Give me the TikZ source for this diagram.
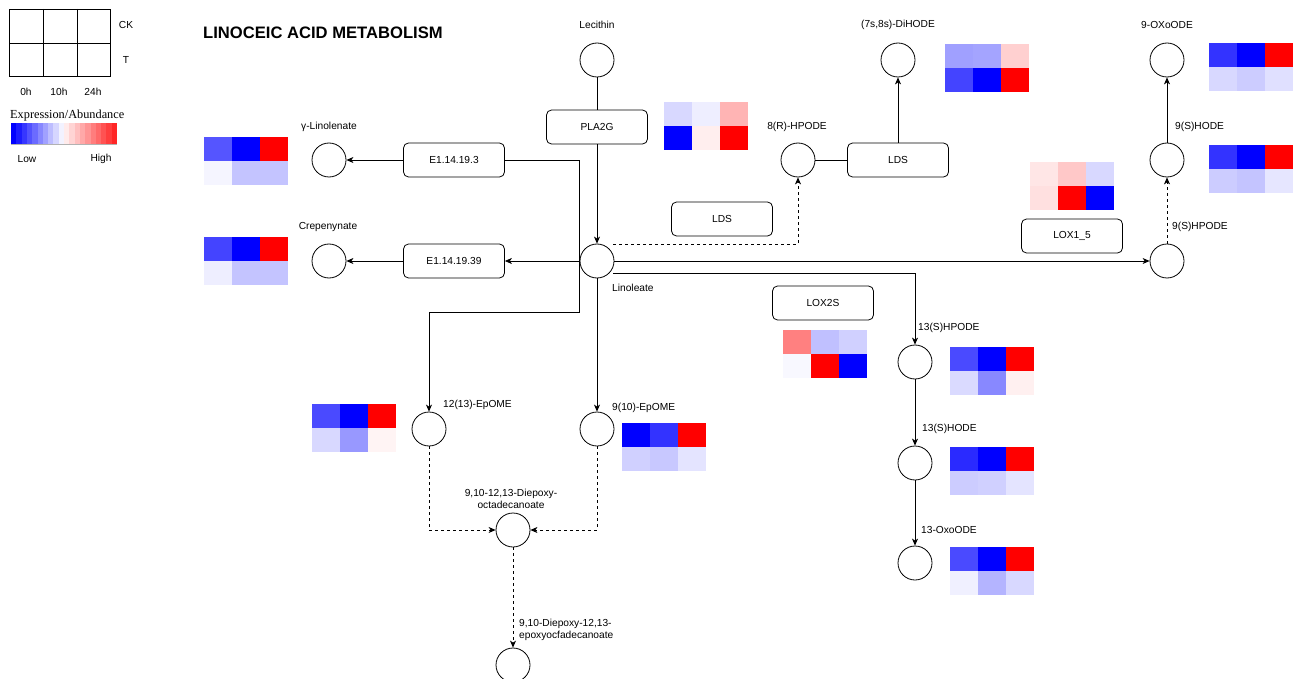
\documentclass[tikz,border=0pt]{standalone}
\usepackage{fontspec}
\setmainfont{Liberation Sans}
\newfontfamily\serifleg{Liberation Serif}
\usetikzlibrary{arrows.meta,calc}
\newcommand\heatmap[8]{%
  \definecolor{hmA}{HTML}{#3}\definecolor{hmB}{HTML}{#4}\definecolor{hmC}{HTML}{#5}%
  \definecolor{hmD}{HTML}{#6}\definecolor{hmE}{HTML}{#7}\definecolor{hmF}{HTML}{#8}%
  \fill[hmA] (#1,#2) rectangle ++(28,24);
  \fill[hmB] ($(#1,#2)+(28,0)$) rectangle ++(28,24);
  \fill[hmC] ($(#1,#2)+(56,0)$) rectangle ++(28,24);
  \fill[hmD] ($(#1,#2)+(0,24)$) rectangle ++(28,24);
  \fill[hmE] ($(#1,#2)+(28,24)$) rectangle ++(28,24);
  \fill[hmF] ($(#1,#2)+(56,24)$) rectangle ++(28,24);
}
\begin{document}
\begin{tikzpicture}[x=1pt,y=-1pt,
  every node/.style={font=\fontsize{10.2}{12}\selectfont},
  met/.style={draw,circle,minimum size=34pt,inner sep=0pt,line width=0.8pt},
  enz/.style={draw,rounded corners=5pt,minimum width=101pt,minimum height=34pt,inner sep=0pt,line width=0.8pt},
  lbl/.style={inner sep=0pt},
  conn/.style={line width=0.75pt},
  arr/.style={conn,-{Stealth[length=7pt,width=6pt,inset=2pt]}}]
\useasboundingbox (0,0) rectangle (1293,679);
% legend
\draw[line width=0.8pt] (9,9) rectangle (110,76);
\draw[line width=0.8pt] (9,43) -- (110,43) (43,9) -- (43,76) (77,9) -- (77,76);
\node[lbl] (ck) at (126,25) {CK};
\node[lbl] (tt) at (126,60) {T};
\node[lbl] (h0) at (26,92) {0h};
\node[lbl] (h10) at (59,92) {10h};
\node[lbl] (h24) at (93,92) {24h};
\node[lbl,anchor=west,font=\serifleg\fontsize{12.3}{14}\selectfont] (ea) at (10,116) {Expression/Abundance};
\foreach \i in {0,...,19}{
  \pgfmathtruncatemacro\bl{100-\i*10.5}
  \pgfmathtruncatemacro\rd{(\i-9)*8.5}
  \ifnum\i<10
    \fill[blue!\bl!white] ({11+\i*5.3},123) rectangle ++(5.4,21);
  \else
    \fill[red!\rd!white] ({11+\i*5.3},123) rectangle ++(5.4,21);
  \fi
}
\draw[gray!60,line width=0.8pt] (11,144) -- (117,144);
\node[lbl] (low) at (27,159) {Low};
\node[lbl] (high) at (101,159) {High};
% title
\node[lbl,anchor=west,font=\bfseries\fontsize{16.6}{19}\selectfont] (title) at (203,33) {LINOCEIC ACID METABOLISM};
% metabolites
\node[met] (lec) at (597,60) {};
\node[lbl] (lecl) at (597,25) {Lecithin};
\node[met] (lin) at (597,261) {};
\node[lbl,anchor=west] (linl) at (612,288) {Linoleate};
\node[met] (glin) at (329,160) {};
\node[lbl] (glinl) at (329,127) {γ-Linolenate};
\node[met] (crep) at (329,261) {};
\node[lbl] (crepl) at (328,227) {Crepenynate};
\node[met] (hp8) at (798,160) {};
\node[lbl] (hp8l) at (797,127) {8(R)-HPODE};
\node[met] (dih) at (898,60) {};
\node[lbl] (dihl) at (898,25) {(7s,8s)-DiHODE};
\node[met] (hp9s) at (1167,261) {};
\node[lbl,anchor=west] (hp9sl) at (1172,227) {9(S)HPODE};
\node[met] (hode9) at (1167,160) {};
\node[lbl,anchor=west] (hode9l) at (1175,127) {9(S)HODE};
\node[met] (oxo9) at (1167,60) {};
\node[lbl] (oxo9l) at (1167,25) {9-OXoODE};
\node[met] (ep12) at (429,429) {};
\node[lbl,anchor=west] (ep12l) at (443,405) {12(13)-EpOME};
\node[met] (ep9) at (597,429) {};
\node[lbl,anchor=west] (ep9l) at (612,408) {9(10)-EpOME};
\node[met] (diep) at (513,530) {};
\node[lbl,align=center] (diepl) at (511,499) {9,10-12,13-Diepoxy-\\octadecanoate};
\node[met] (fin) at (513,665) {};
\node[lbl,anchor=west,align=left] (finl) at (519,630) {9,10-Diepoxy-12,13-\\epoxyocfadecanoate};
\node[met] (hp13) at (915,362) {};
\node[lbl,anchor=west] (hp13l) at (918,328) {13(S)HPODE};
\node[met] (hode13) at (915,463) {};
\node[lbl,anchor=west] (hode13l) at (922,429) {13(S)HODE};
\node[met] (oxo13) at (915,563) {};
\node[lbl,anchor=west] (oxo13l) at (921,530) {13-OxoODE};
% enzymes
\node[enz] (pla) at (597,127) {PLA2G};
\node[enz] (e3) at (454,160) {E1.14.19.3};
\node[enz] (e39) at (454,261) {E1.14.19.39};
\node[enz] (ldsa) at (898,160) {LDS};
\node[enz] (ldsb) at (722,219) {LDS};
\node[enz] (lox15) at (1072,236) {LOX1\_5};
\node[enz] (lox2s) at (823,303) {LOX2S};
% heatmaps
\heatmap{204}{137}{5555FF}{0000FF}{FF0000}{F5F5FF}{C4C4FF}{C4C4FF}
\heatmap{204}{237}{4444FF}{0000FF}{FF0000}{EEEEFF}{C4C4FF}{C4C4FF}
\heatmap{664}{102}{D8D8FF}{EEEEFF}{FFB4B4}{0000FF}{FFEEEE}{FF0000}
\heatmap{945}{44}{A0A0FF}{A4A4FF}{FFD0D0}{4444FF}{0000FF}{FF0000}
\heatmap{1209}{43}{3333FF}{0000FF}{FF0000}{D8D8FF}{CCCCFF}{E0E0FF}
\heatmap{1209}{145}{3333FF}{0000FF}{FF0000}{CCCCFF}{C4C4FF}{E6E6FF}
\heatmap{1030}{162}{FFE6E6}{FFC8C8}{D8D8FF}{FFE0E0}{FF0000}{0000FF}
\heatmap{950}{347}{4A4AFF}{0000FF}{FF0000}{DADAFF}{8888FF}{FFF0F0}
\heatmap{950}{447}{2A2AFF}{0000FF}{FF0000}{CCCCFF}{D0D0FF}{E4E4FF}
\heatmap{950}{547}{4A4AFF}{0000FF}{FF0000}{F0F0FF}{B4B4FF}{D8D8FF}
\heatmap{783}{330}{FF8080}{C0C0FF}{D0D0FF}{F8F8FF}{FF0000}{0000FF}
\heatmap{312}{404}{4A4AFF}{0000FF}{FF0000}{D8D8FF}{9898FF}{FFF4F4}
\heatmap{622}{423}{0000FF}{3333FF}{FF0000}{D0D0FF}{C8C8FF}{E4E4FF}
% connectors
\coordinate (linne) at (613,244);
\coordinate (linse) at (613,273);
\draw[conn] (lec) -- (pla);
\draw[arr] (pla) -- (lin);
\draw[conn] (lin.west) |- (e3.east);
\draw[arr] (e3) -- (glin);
\draw[arr] (lin) -- (e39);
\draw[arr] (e39) -- (crep);
\draw[arr] (lin.west) -- ++(0,51) -| (ep12);
\draw[arr] (lin) -- (ep9);
\draw[arr,dashed] (ep12) |- (diep);
\draw[arr,dashed] (ep9) |- (diep);
\draw[arr,dashed] (diep) -- (fin);
\draw[arr,dashed] (linne) -| (hp8);
\draw[conn] (hp8) -- (ldsa);
\draw[arr] (ldsa) -- (dih);
\draw[arr] (lin) -- (hp9s);
\draw[arr,dashed] (hp9s) -- (hode9);
\draw[arr] (hode9) -- (oxo9);
\draw[arr] (linse) -| (hp13);
\draw[arr] (hp13) -- (hode13);
\draw[arr] (hode13) -- (oxo13);
\end{tikzpicture}
\end{document}
